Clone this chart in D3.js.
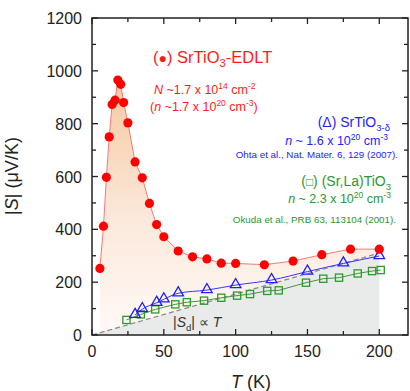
<!DOCTYPE html>
<html>
<head>
<meta charset="utf-8">
<script src="https://cdn.jsdelivr.net/npm/d3@7"></script>
<style>
  body { margin: 0; background: #fff; }
  text { font-family: "Liberation Sans", Arial, sans-serif; }
</style>
</head>
<body>
<div id="root"></div>
<script>
// |S| (uV/K) vs T (K)
const edlt = [
  [5.5, 252], [8, 412], [10, 597], [12, 750], [14, 873], [16, 889], [18, 965],
  [20, 949], [22, 880], [25, 803], [30, 655], [35, 595], [40, 498], [45, 418],
  [50, 372], [60, 318], [70, 296], [80, 288], [90, 272], [100, 271], [120, 266],
  [140, 280], [160, 304], [180, 325], [200, 325]
];
const delta = [
  [30, 76], [35, 98], [45, 122], [50, 135], [60, 158], [80, 170], [100, 189],
  [125, 208], [150, 240], [175, 271], [200, 299]
];
const srla = [
  [24, 57], [34, 78], [44, 97], [58, 116], [66, 124], [78, 130], [90, 141],
  [101, 149], [110, 155], [122, 167], [130, 169], [149, 198], [161, 213],
  [172, 217], [185, 233], [195, 242], [201, 246]
];
const sdLine = [[0, 0], [200, 310]];
const xTicks = [0, 50, 100, 150, 200];
const yTicks = [0, 200, 400, 600, 800, 1000, 1200];

const svg = d3.select("#root").append("svg")
    .attr("width", 410).attr("height", 391),
  margin = { top: 18, right: 2, bottom: 56, left: 92 },
  width = 410 - margin.left - margin.right,
  height = 391 - margin.top - margin.bottom;

const x = d3.scaleLinear().domain([0, 220]).range([margin.left, margin.left + width]);
const y = d3.scaleLinear().domain([0, 1200]).range([margin.top + height, margin.top]);

const defs = svg.append("defs");
const grad = defs.append("linearGradient").attr("id", "warm")
  .attr("gradientUnits", "userSpaceOnUse")
  .attr("x1", 0).attr("x2", 0).attr("y1", y(1000)).attr("y2", y(0));
grad.append("stop").attr("offset", 0).attr("stop-color", "#f6c69c");
grad.append("stop").attr("offset", 0.55).attr("stop-color", "#fbe8da");
grad.append("stop").attr("offset", 1).attr("stop-color", "#fffaf7");

// warm fill under EDLT curve
const area = d3.area().x(d => x(d[0])).y0(y(0)).y1(d => y(d[1]));
svg.append("path").datum(edlt).attr("d", area).attr("fill", "url(#warm)");

// grey region below |Sd| ~ T
const grey = [[0, 0], [200, 310], [200, 0]];
svg.append("path")
  .attr("d", d3.line().x(d => x(d[0])).y(d => y(d[1]))(grey) + "Z")
  .attr("fill", "#e9eaea");

svg.append("path")
  .attr("d", d3.line().x(d => x(d[0])).y(d => y(d[1]))(sdLine))
  .attr("fill", "none").attr("stroke", "#888").attr("stroke-width", 1.2)
  .attr("stroke-dasharray", "5,3");

const line = d3.line().x(d => x(d[0])).y(d => y(d[1]));

// green (Sr,La)TiO3
svg.append("path").attr("d", line(srla)).attr("fill", "none")
  .attr("stroke", "#3c9a3c").attr("stroke-width", 1);
svg.selectAll(".sq").data(srla).join("rect")
  .attr("x", d => x(d[0]) - 3.6).attr("y", d => y(d[1]) - 3.6)
  .attr("width", 7.2).attr("height", 7.2)
  .attr("fill", "none").attr("stroke", "#2e9a2e").attr("stroke-width", 1.3);

// blue SrTiO3-d
svg.append("path").attr("d", line.curve(d3.curveMonotoneX)(delta)).attr("fill", "none")
  .attr("stroke", "#3535ff").attr("stroke-width", 1);
line.curve(d3.curveLinear);
const tri = d3.symbol().type(d3.symbolTriangle).size(48);
svg.selectAll(".tri").data(delta).join("path")
  .attr("d", tri)
  .attr("transform", d => `translate(${x(d[0])},${y(d[1]) - 0.5})`)
  .attr("fill", "none").attr("stroke", "#1f1fff").attr("stroke-width", 1.3);

// red EDLT
svg.append("path").attr("d", line(edlt)).attr("fill", "none")
  .attr("stroke", "#f77a7a").attr("stroke-width", 1);
svg.selectAll(".dot").data(edlt).join("circle")
  .attr("cx", d => x(d[0])).attr("cy", d => y(d[1])).attr("r", 4.6)
  .attr("fill", "#ff0000");

// frame and ticks
svg.append("rect").attr("x", margin.left).attr("y", margin.top)
  .attr("width", width).attr("height", height)
  .attr("fill", "none").attr("stroke", "#222").attr("stroke-width", 1.5);

const tk = svg.append("g").attr("stroke", "#222").attr("stroke-width", 1.3);
d3.range(0, 221, 25).forEach(v => {
  const len = v % 50 === 0 ? 6 : 4;
  tk.append("line").attr("x1", x(v)).attr("x2", x(v)).attr("y1", y(0)).attr("y2", y(0) - len);
  tk.append("line").attr("x1", x(v)).attr("x2", x(v)).attr("y1", y(1200)).attr("y2", y(1200) + len);
});
d3.range(0, 1201, 100).forEach(v => {
  const len = v % 200 === 0 ? 6 : 4;
  tk.append("line").attr("y1", y(v)).attr("y2", y(v)).attr("x1", x(0)).attr("x2", x(0) + len);
  tk.append("line").attr("y1", y(v)).attr("y2", y(v)).attr("x1", x(220)).attr("x2", x(220) - len);
});

svg.selectAll(".xl").data(xTicks).join("text")
  .attr("x", d => x(d)).attr("y", 357).attr("text-anchor", "middle")
  .attr("font-size", 16).attr("fill", "#222").text(d => d);
svg.selectAll(".yl").data(yTicks).join("text")
  .attr("x", 82).attr("y", d => y(d) + 6).attr("text-anchor", "end")
  .attr("font-size", 16).attr("fill", "#222").text(d => d);

// rich text helper: parts = [text, style] style: "", "i", "sup", "sub", "small"
function rich(px, py, parts, opts) {
  const t = svg.append("text").attr("x", px).attr("y", py)
    .attr("font-size", opts.size).attr("fill", opts.color)
    .attr("text-anchor", opts.anchor || "start");
  let shift = 0;
  parts.forEach(([s, st]) => {
    const ts = t.append("tspan").text(s);
    let target = 0;
    if (st === "sup") { target = -opts.size * 0.4; ts.attr("font-size", opts.size * 0.68); }
    else if (st === "sub") { target = opts.size * 0.25; ts.attr("font-size", opts.size * 0.68); }
    else if (st === "i") ts.attr("font-style", "italic");
    else if (st === "small") ts.attr("font-size", opts.size * 0.85);
    ts.attr("dy", target - shift);
    shift = target;
  });
  return t;
}

rich(18, 176, [["|", ""], ["S", "i"], ["| (\u03bcV/K)", ""]], { size: 18, color: "#222", anchor: "middle" })
  .attr("transform", "rotate(-90,18,176)").attr("dy", 6);
rich(251, 388, [["T", "i"], [" (K)", ""]], { size: 18, color: "#222", anchor: "middle" });

const red = "#ff1a1a";
rich(153, 63, [["(", ""], ["\u25cf", "small"], [") SrTiO", ""], ["3", "sub"], ["-EDLT", ""]], { size: 16.5, color: red });
rich(154, 94, [["N", "i"], [" ~1.7 x 10", ""], ["14", "sup"], [" cm", ""], ["-2", "sup"]], { size: 12.5, color: red });
rich(150, 111, [["(", ""], ["n", "i"], [" ~1.7 x 10", ""], ["20", "sup"], [" cm", ""], ["-3", "sup"], [")", ""]], { size: 12.5, color: red });

const blue = "#2323ff";
rich(390, 127, [["(\u0394)  SrTiO", ""], ["3-\u03b4", "sub"]], { size: 14, color: blue, anchor: "end" });
rich(388, 145, [["n", "i"], [" ~ 1.6 x 10", ""], ["20", "sup"], [" cm", ""], ["-3", "sup"]], { size: 12.5, color: blue, anchor: "end" });
rich(398, 158, [["Ohta et al., Nat. Mater. 6, 129 (2007).", ""]], { size: 9.8, color: blue, anchor: "end" });

const green = "#2e962e";
rich(391, 186, [["(", ""], ["\u25a1", "small"], [")  (Sr,La)TiO", ""], ["3", "sub"]], { size: 14, color: green, anchor: "end" });
rich(391, 203, [["n", "i"], [" ~ 2.3 x 10", ""], ["20", "sup"], [" cm", ""], ["-3", "sup"]], { size: 12.5, color: green, anchor: "end" });
rich(396, 223, [["Okuda et al., PRB 63, 113104 (2001).", ""]], { size: 9.8, color: green, anchor: "end" });

rich(173, 327, [["|", ""], ["S", "i"], ["d", "sub"], ["| \u221d ", ""], ["T", "i"]], { size: 14, color: "#333" });
</script>
</body>
</html>
